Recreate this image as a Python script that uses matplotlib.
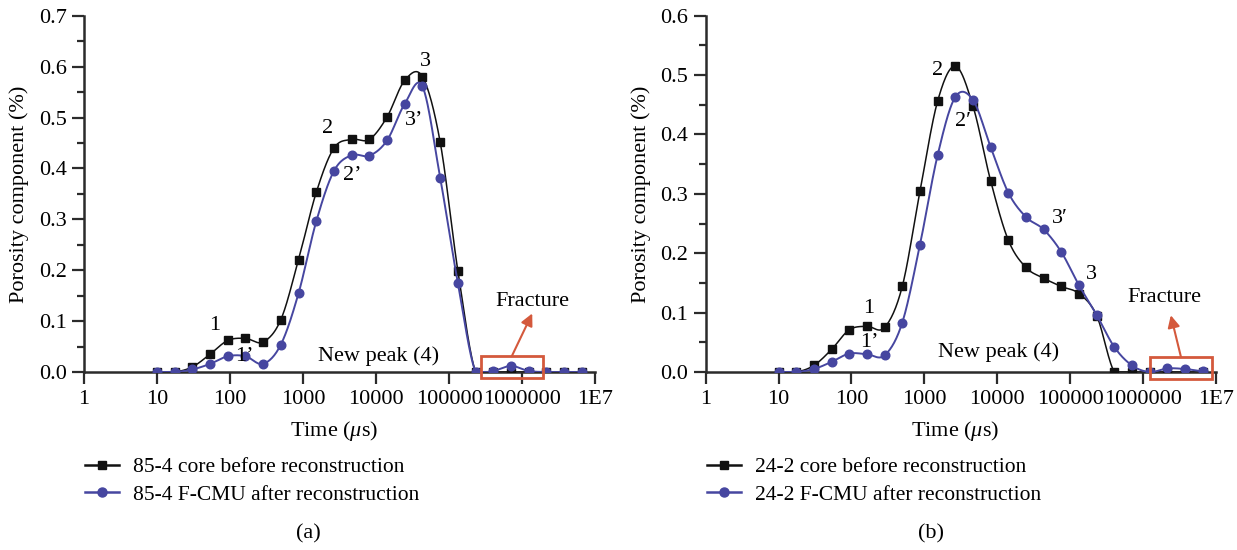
import numpy as np
import matplotlib
matplotlib.use("Agg")
import matplotlib.pyplot as plt
from matplotlib.patches import Rectangle

plt.rcParams['font.family'] = ['Liberation Serif', 'DejaVu Serif']
plt.rcParams['mathtext.fontset'] = 'custom'
plt.rcParams['mathtext.it'] = 'Liberation Serif:italic'
plt.rcParams['mathtext.rm'] = 'Liberation Serif'

# T2 time points (us), log spaced
time_us = [10, 17.48, 30.54, 53.4, 93.3, 163.0, 284.8, 497.7, 869.8, 1520,
           2656, 4642, 8111, 14175, 24771, 43288, 75646, 132194, 231013,
           403702, 705480, 1232847, 2154435, 3764936, 6579332]

# (a) sample 85-4
a_before = [0.0, 0.0, 0.010, 0.035, 0.062, 0.066, 0.059, 0.103, 0.221, 0.353,
            0.440, 0.457, 0.457, 0.501, 0.573, 0.580, 0.452, 0.199, 0.0,
            0.0, 0.0, 0.0, 0.0, 0.0, 0.0]
a_after = [0.0, 0.0, 0.005, 0.016, 0.031, 0.031, 0.016, 0.054, 0.155, 0.296,
           0.395, 0.426, 0.425, 0.455, 0.527, 0.561, 0.382, 0.175, 0.0,
           0.002, 0.012, 0.002, 0.0, 0.0, 0.0]

# (b) sample 24-2
b_before = [0.0, 0.0, 0.011, 0.038, 0.071, 0.077, 0.075, 0.144, 0.304, 0.456,
            0.515, 0.448, 0.322, 0.222, 0.176, 0.158, 0.144, 0.132, 0.095,
            0.0, 0.0, 0.0, 0.0, 0.0, 0.0]
b_after = [0.0, 0.0, 0.005, 0.017, 0.031, 0.030, 0.028, 0.083, 0.214, 0.365,
           0.463, 0.458, 0.379, 0.302, 0.261, 0.240, 0.202, 0.146, 0.096,
           0.042, 0.011, 0.0, 0.006, 0.005, 0.001]

xtick_vals = [1, 10, 100, 1000, 10000, 100000, 1000000, 10000000]
xtick_labels = ['1', '10', '100', '1000', '10000', '100000', '1000000', '1E7']

BLACK = '#111111'
BLUE = '#4646a0'
RED = '#d4593c'
SPINE = '#2b2b2b'
FS = 16
LFS = 15.5


def smooth(xs, ys, n=24):
    lx = np.log10(np.asarray(xs, float))
    y = np.asarray(ys, float)
    m = np.gradient(y)
    ml = np.gradient(lx)
    X, Y = [], []
    t = np.linspace(0, 1, n, endpoint=False)
    h00 = 2 * t**3 - 3 * t**2 + 1
    h10 = t**3 - 2 * t**2 + t
    h01 = -2 * t**3 + 3 * t**2
    h11 = t**3 - t**2
    for i in range(len(y) - 1):
        Y.append(h00 * y[i] + h10 * m[i] + h01 * y[i + 1] + h11 * m[i + 1])
        X.append(h00 * lx[i] + h10 * ml[i] + h01 * lx[i + 1] + h11 * ml[i + 1])
    X.append([lx[-1]])
    Y.append([y[-1]])
    X = 10 ** np.concatenate(X)
    Y = np.maximum(np.concatenate(Y), 0)
    return X, Y


fig = plt.figure(figsize=(12.37, 5.5), dpi=100)
W, H = 1237, 550

panels = [
    dict(left=84, right=595, ymax=0.7, before=a_before, after=a_after,
         names=('85-4 core before reconstruction', '85-4 F-CMU after reconstruction'),
         cap='(a)', capx=308,
         labels=[('1', 62, 0.092), ('1’', 155, 0.030), ('2', 2200, 0.479),
                 ('2’', 4700, 0.387), ('3', 47000, 0.611), ('3’', 33000, 0.494)],
         newpeak=(10700, 0.031), frac=(1.38e6, 0.138),
         rect=(2.75e5, 1.94e6, -0.012, 0.031),
         arrow=((10**5.86, 0.031), (10**6.14, 0.115))),
    dict(left=705.6, right=1216, ymax=0.6, before=b_before, after=b_after,
         names=('24-2 core before reconstruction', '24-2 F-CMU after reconstruction'),
         cap='(b)', capx=931,
         labels=[('2', 1500, 0.508), ('2′', 3370, 0.421), ('1', 174, 0.107),
                 ('1’', 178, 0.050), ('3′', 72000, 0.259), ('3', 1.94e5, 0.165)],
         newpeak=(10400, 0.034), frac=(1.94e6, 0.126),
         rect=(10**6.10, 10**6.94, -0.012, 0.025),
         arrow=((10**6.52, 0.025), (10**6.38, 0.0955))),
]

top_px, bot_px = 15.7, 372

for p in panels:
    ax = fig.add_axes([p['left'] / W, 1 - bot_px / H,
                       (p['right'] - p['left']) / W, (bot_px - top_px) / H])
    ax.set_xscale('log')
    ax.set_xlim(1, 1e7)
    ax.set_ylim(0, p['ymax'])
    for s in ('top', 'right'):
        ax.spines[s].set_visible(False)
    for s in ('left', 'bottom'):
        ax.spines[s].set_color(SPINE)
        ax.spines[s].set_linewidth(1.8)
    ax.set_xticks(xtick_vals)
    ax.set_xticklabels(xtick_labels)
    ax.xaxis.set_minor_locator(matplotlib.ticker.NullLocator())
    ax.set_yticks(np.arange(0, p['ymax'] + 1e-9, 0.1))
    ax.set_yticklabels(['%.1f' % v for v in np.arange(0, p['ymax'] + 1e-9, 0.1)])
    ax.yaxis.set_minor_locator(matplotlib.ticker.MultipleLocator(0.05))
    ax.tick_params(axis='both', which='major', direction='out', length=8.6,
                   width=1.6, color=SPINE, labelsize=FS)
    ax.tick_params(axis='x', pad=4)
    ax.tick_params(axis='y', pad=4)
    ax.tick_params(axis='y', which='minor', direction='out', length=5,
                   width=1.6, color=SPINE)

    xs, ys = smooth(time_us, p['before'])
    ax.plot(xs, ys, color=BLACK, lw=1.1, zorder=3)
    ax.plot(time_us, p['before'], ls='none', marker='s', ms=5.5, color=BLACK, zorder=4)
    xs, ys = smooth(time_us, p['after'])
    ax.plot(xs, ys, color=BLUE, lw=1.4, zorder=5)
    ax.plot(time_us, p['after'], ls='none', marker='o', ms=6.2, color=BLUE, zorder=6)

    # legend proxies
    h1, = ax.plot([], [], color=BLACK, lw=1.8, marker='s', ms=6)
    h2, = ax.plot([], [], color=BLUE, lw=1.8, marker='o', ms=6.5)
    ax.legend([h1, h2], p['names'], loc='upper left',
              bbox_to_anchor=((p['left'] + 1) / W, 1 - 457 / H),
              bbox_transform=fig.transFigure, frameon=False, fontsize=LFS,
              borderpad=0, borderaxespad=0, handlelength=1.6, handletextpad=0.65,
              labelspacing=0.35, numpoints=1)

    ax.set_xlabel('Time ($\\mathit{\\mu}$s)', fontsize=FS)
    ax.xaxis.set_label_coords((334 - 84) / 511, (372 - 419) / 356.3)
    ax.set_ylabel('Porosity component (%)', fontsize=FS)
    ax.yaxis.set_label_coords(-55 / 511, 0.5)

    for txt, x, y in p['labels']:
        ax.text(x, y, txt, fontsize=FS, ha='center', va='center', zorder=8)
    ax.text(*p['newpeak'], 'New peak (4)', fontsize=FS, ha='center', va='center')
    ax.text(*p['frac'], 'Fracture', fontsize=FS, ha='center', va='center')
    x0, x1, y0, y1 = p['rect']
    ax.add_patch(Rectangle((x0, y0), x1 - x0, y1 - y0, fill=False,
                           edgecolor=RED, lw=2, clip_on=False, zorder=7))
    tail, head = p['arrow']
    ax.annotate('', xy=head, xytext=tail,
                arrowprops=dict(arrowstyle='-|>', color=RED, lw=1.5,
                                mutation_scale=18, shrinkA=0, shrinkB=0),
                annotation_clip=False)

    fig.text(p['capx'] / W, 1 - 534 / H, p['cap'], fontsize=FS,
             ha='center', va='center')

fig.savefig('out.png', dpi=100)
